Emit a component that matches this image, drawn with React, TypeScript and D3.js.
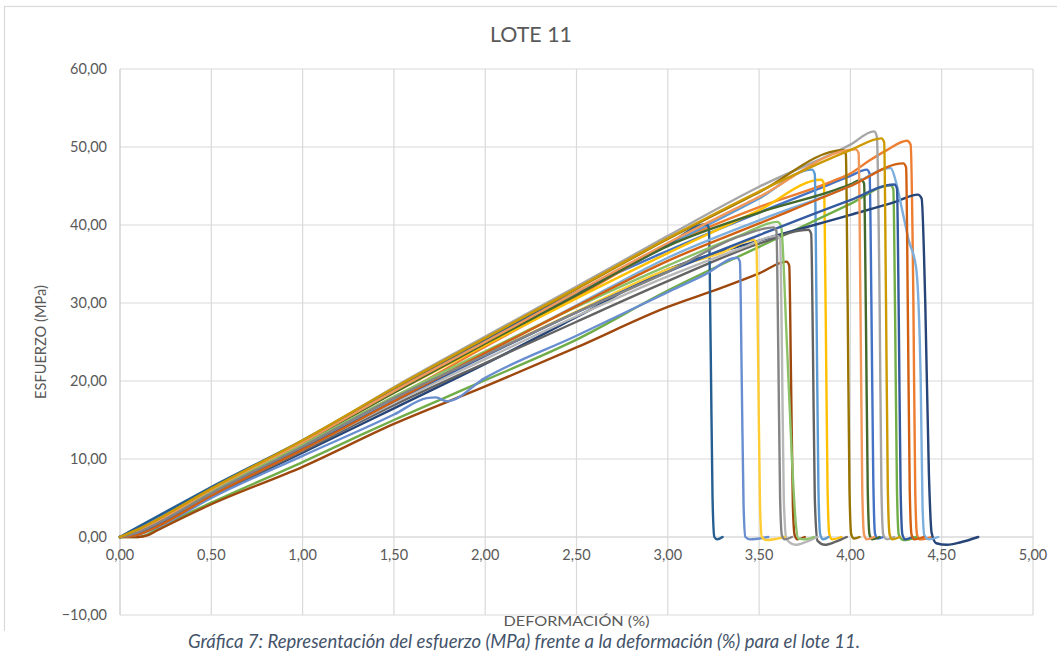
import React from "react";
import * as d3 from "d3";

// Stress (MPa) vs. strain (%) curves for the specimens of batch 11.
type Pt = [number, number];

const p01: Pt[] = [[0,0],[0.1,1.2],[0.2,2.5],[0.5,6.3],[1.0,12.3],[1.5,18.8],[2.0,25.2],[2.5,31.4],[3.0,36.7],[3.5,41.6],[3.8,44.4],[4.0,46.3],[4.09,47.1],[4.105,46.6],[4.115,30],[4.125,8],[4.135,0.4],[4.15,-0.2],[4.18,0]];
const p02: Pt[] = [[0,0],[0.1,0.5],[0.2,1.6],[0.5,5.6],[1.0,11.5],[1.5,17.8],[2.0,24.4],[2.5,30.8],[3.0,37.4],[3.5,42.3],[3.9,45.6],[4.0,46.6],[4.1,48.2],[4.2,49.6],[4.31,50.8],[4.33,50.3],[4.345,30],[4.355,6],[4.365,0.3],[4.38,-0.3],[4.45,0]];
const p03: Pt[] = [[0,0],[0.1,0.8],[0.2,2.0],[0.5,6.0],[1.0,12.2],[1.5,19.2],[2.0,25.7],[2.5,32.1],[3.0,38.6],[3.5,44.9],[4.0,50.3],[4.13,52.0],[4.145,51.3],[4.16,30],[4.17,6],[4.18,0.3],[4.2,-0.3],[4.24,0]];
const p04: Pt[] = [[0,0],[0.1,0.6],[0.2,1.8],[0.5,5.9],[1.0,12.0],[1.5,18.5],[2.0,24.6],[2.5,30.6],[3.0,36.4],[3.5,41.9],[3.84,45.8],[3.855,45.3],[3.865,28],[3.875,6],[3.885,0.3],[3.9,-0.3],[3.95,0]];
const p05: Pt[] = [[0,0],[0.1,0.7],[0.2,1.9],[0.5,5.9],[1.0,12.1],[1.5,18.7],[2.0,25.0],[2.5,31.2],[3.0,37.4],[3.5,43.4],[3.79,47.1],[3.805,46.5],[3.815,28],[3.825,6],[3.835,0.3],[3.85,-0.3],[3.88,0]];
const p06: Pt[] = [[0,0],[0.1,0.0],[0.15,0.3],[0.2,1.0],[0.5,4.4],[1.0,9.6],[1.32,13.1],[1.5,15.0],[2.0,20.1],[2.5,25.3],[3.0,31.6],[3.5,37.2],[4.0,42.7],[4.22,45.1],[4.235,44.6],[4.245,28],[4.255,6],[4.265,0.3],[4.29,-0.4],[4.36,0]];
const p07: Pt[] = [[0,0],[0.1,0.6],[0.2,1.7],[0.5,5.2],[1.0,10.8],[1.5,16.5],[2.0,22.2],[2.5,28.2],[3.0,34.3],[3.5,38.0],[4.0,41.3],[4.25,43.0],[4.37,43.9],[4.39,43.4],[4.41,30],[4.43,8],[4.445,0.5],[4.47,-0.8],[4.53,-1.0],[4.6,-0.7],[4.7,0]];
const p08: Pt[] = [[0,0],[0.1,0.0],[0.15,0.2],[0.2,0.8],[0.5,4.2],[1.0,9.0],[1.5,14.5],[2.0,19.3],[2.5,24.3],[3.0,29.5],[3.3,32.0],[3.5,33.8],[3.65,35.3],[3.665,34.8],[3.675,20],[3.685,4],[3.695,0.2],[3.71,-0.3],[3.75,0]];
const p09: Pt[] = [[0,0],[0.1,0.4],[0.2,1.4],[0.5,5.2],[1.0,11.0],[1.5,16.9],[2.0,22.3],[2.5,27.6],[3.0,32.8],[3.5,37.6],[3.77,39.4],[3.785,38.9],[3.795,24],[3.805,5],[3.82,-0.5],[3.86,-1.0],[3.92,-0.6],[3.98,0]];
const p10: Pt[] = [[0,0],[0.1,0.9],[0.2,2.1],[0.5,6.1],[1.0,12.3],[1.5,19.0],[2.0,25.4],[2.5,31.8],[3.0,38.2],[3.5,44.2],[3.96,49.6],[3.975,49.1],[3.985,30],[3.995,6],[4.005,0.3],[4.02,-0.2],[4.05,0]];
const p11: Pt[] = [[0,0],[0.1,1.3],[0.2,2.6],[0.5,6.4],[1.0,12.4],[1.5,19.0],[2.0,25.4],[2.5,31.3],[3.0,37.5],[3.21,40.1],[3.225,39.6],[3.235,24],[3.245,5],[3.255,0.0],[3.27,-0.3],[3.3,0]];
const p12: Pt[] = [[0,0],[0.1,0.8],[0.2,2.0],[0.5,5.9],[1.0,12.0],[1.5,18.5],[2.0,24.8],[2.5,31.0],[3.0,37.3],[3.5,41.6],[4.0,45.2],[4.06,45.8],[4.075,45.3],[4.085,28],[4.095,6],[4.105,0.3],[4.12,-0.3],[4.16,0]];
const p13: Pt[] = [[0,0],[0.1,0.3],[0.2,1.2],[0.5,5.0],[1.0,10.4],[1.5,15.7],[1.68,17.8],[1.73,17.9],[1.79,17.4],[2.0,20.4],[2.5,25.8],[3.0,31.4],[3.2,33.6],[3.38,35.8],[3.395,35.3],[3.405,20],[3.415,4],[3.425,0.0],[3.45,-0.3],[3.55,0]];
const p14: Pt[] = [[0,0],[0.1,0.7],[0.2,1.9],[0.5,6.0],[1.0,12.1],[1.5,18.7],[2.0,25.0],[2.5,31.4],[3.0,37.7],[3.5,43.6],[4.03,49.7],[4.045,49.2],[4.055,30],[4.065,6],[4.075,0.3],[4.09,-0.3],[4.13,0]];
const p15: Pt[] = [[0,0],[0.1,0.5],[0.2,1.5],[0.5,5.4],[1.0,11.2],[1.5,17.2],[2.0,22.8],[2.5,28.3],[3.0,33.4],[3.4,37.0],[3.6,38.6],[3.615,38.1],[3.625,24],[3.635,5],[3.65,-0.3],[3.7,-1.0],[3.76,-0.6],[3.82,0]];
const p16: Pt[] = [[0,0],[0.1,0.4],[0.2,1.4],[0.5,5.5],[1.0,11.5],[1.5,17.7],[2.0,23.4],[2.5,28.9],[3.0,34.3],[3.3,36.5],[3.47,38.1],[3.485,37.6],[3.495,22],[3.505,4],[3.515,0],[3.54,-0.4],[3.6,-0.2],[3.64,0]];
const p17: Pt[] = [[0,0],[0.1,0.5],[0.2,1.6],[0.5,5.6],[1.0,11.5],[1.5,17.6],[2.0,23.5],[2.5,29.7],[3.0,35.8],[3.5,40.6],[4.0,45.0],[4.22,47.3],[4.25,45.5],[4.28,42.3],[4.32,38.0],[4.36,34.5],[4.385,20],[4.395,4],[4.405,0.2],[4.43,-0.3],[4.48,0]];
const p18: Pt[] = [[0,0],[0.1,0.5],[0.2,1.6],[0.5,5.7],[1.0,11.8],[1.5,18.0],[2.0,23.8],[2.5,29.5],[3.0,34.8],[3.4,38.7],[3.6,40.4],[3.62,39.9],[3.65,26],[3.68,10],[3.70,2],[3.715,-0.2],[3.75,-0.3],[3.8,0]];
const p19: Pt[] = [[0,0],[0.1,0.4],[0.2,1.4],[0.5,5.4],[1.0,11.3],[1.5,17.4],[2.0,23.2],[2.5,28.8],[3.0,34.0],[3.5,38.7],[4.0,43.2],[4.24,45.2],[4.255,44.7],[4.265,28],[4.275,6],[4.285,0.3],[4.3,-0.3],[4.34,0]];
const p20: Pt[] = [[0,0],[0.1,0.3],[0.2,1.3],[0.5,5.3],[1.0,11.2],[1.5,17.4],[2.0,23.6],[2.5,29.6],[3.0,35.4],[3.5,40.2],[4.0,45.0],[4.29,47.9],[4.305,47.4],[4.315,28],[4.325,6],[4.335,0.3],[4.35,-0.3],[4.4,0]];
const p21: Pt[] = [[0,0],[0.1,0.6],[0.2,1.7],[0.5,5.6],[1.0,11.6],[1.5,17.8],[2.0,23.3],[2.5,28.8],[3.0,34.0],[3.4,38.6],[3.58,39.7],[3.595,39.2],[3.605,24],[3.615,5],[3.625,0.2],[3.64,-0.3],[3.68,0]];
const p22: Pt[] = [[0,0],[0.1,1.0],[0.2,2.2],[0.5,6.2],[1.0,12.4],[1.5,19.1],[2.0,25.5],[2.5,31.9],[3.0,38.3],[3.5,44.3],[4.0,49.6],[4.17,51.1],[4.185,50.6],[4.195,30],[4.205,6],[4.215,0.3],[4.23,-0.3],[4.27,0]];

const specimens: Pt[][] = [p01,p02,p03,p04,p05,p06,p07,p08,p09,p10,p11,p12,p13,p14,p15,p16,p17,p18,p19,p20,p21,p22];

const palette = [
  "#4472C4","#ED7D31","#A5A5A5","#FFC000","#5B9BD5","#70AD47",
  "#264478","#9E480E","#636363","#997300","#255E91","#43682B",
  "#698ED0","#F1975A","#B7B7B7","#FFCD33","#7CAFDD","#8CC168",
  "#335AA1","#D26012","#848484","#CC9A00",
];

const xTicks = [0, 0.5, 1, 1.5, 2, 2.5, 3, 3.5, 4, 4.5, 5];
const yTicks = [-10, 0, 10, 20, 30, 40, 50, 60];

const chartTitle = "LOTE 11";
const xTitle = "DEFORMACIÓN (%)";
const yTitle = "ESFUERZO (MPa)";
const caption = "Gráfica 7: Representación del esfuerzo (MPa) frente a la deformación (%) para el lote 11.";

const W = 1057;
const H = 653;
const FONT = "Lato, 'Open Sans', sans-serif";

const locale = d3.formatLocale({ decimal: ",", thousands: ".", grouping: [3], currency: ["", "€"] });
const fmt = locale.format(".2f");

export default function App() {
  const x = d3.scaleLinear().domain([0, 5]).range([120, 1033]);
  const y = d3.scaleLinear().domain([-10, 60]).range([615, 69]);
  const line = d3
    .line<Pt>()
    .x((d) => x(d[0]))
    .y((d) => y(d[1]))
    .curve(d3.curveMonotoneX);

  const [x0, x1] = x.range();
  const [yb, yt] = y.range();

  return (
    <svg
      width={W}
      height={H}
      style={{ position: "absolute", left: 0, top: 0, background: "#fff" }}
    >
      <rect x={0} y={0} width={W} height={H} fill="#fff" />
      {/* chart frame */}
      <rect x={4.5} y={6.5} width={W + 10} height={H} fill="none" stroke="#d9d9d9" strokeWidth={1.2} />

      <text x={531} y={42} textAnchor="middle" fontFamily={FONT} fontSize={21} fill="#595959" textLength={82} lengthAdjust="spacingAndGlyphs">
        {chartTitle}
      </text>

      {/* gridlines */}
      {yTicks.map((t) => (
        <line key={"gy" + t} x1={x0} x2={x1} y1={y(t)} y2={y(t)} stroke={t === 0 ? "#c8c8c8" : "#d9d9d9"} strokeWidth={1.2} />
      ))}
      {xTicks.map((t) => (
        <line key={"gx" + t} x1={x(t)} x2={x(t)} y1={yb} y2={yt} stroke={t === 0 ? "#c8c8c8" : "#d9d9d9"} strokeWidth={1.2} />
      ))}

      {/* y tick labels */}
      {yTicks.map((t) => (
        <text key={"ly" + t} x={107} y={y(t) + 5} textAnchor="end" fontFamily={FONT} fontSize={14.5} fill="#595959">
          {fmt(t)}
        </text>
      ))}
      {/* x tick labels, placed along the zero line */}
      {xTicks.map((t) => (
        <text key={"lx" + t} x={x(t)} y={y(0) + 23} textAnchor="middle" fontFamily={FONT} fontSize={14.5} fill="#595959">
          {fmt(t)}
        </text>
      ))}

      {/* specimen curves */}
      <g fill="none" strokeWidth={2.4} strokeLinejoin="round" strokeLinecap="round">
        {specimens.map((s, i) => (
          <path key={i} d={line(s) || ""} stroke={palette[i % palette.length]} />
        ))}
      </g>

      {/* axis titles */}
      <text
        transform={`translate(46, ${(yb + yt) / 2}) rotate(-90)`}
        textAnchor="middle"
        fontFamily={FONT}
        fontSize={16}
        fill="#595959"
        textLength={114}
        lengthAdjust="spacingAndGlyphs"
      >
        {yTitle}
      </text>
      <text x={(x0 + x1) / 2} y={626} textAnchor="middle" fontFamily={FONT} fontSize={13} fill="#595959" textLength={146} lengthAdjust="spacingAndGlyphs">
        {xTitle}
      </text>

      {/* caption band */}
      <rect x={0} y={631} width={W} height={H - 631} fill="#fff" />
      <text x={524} y={648} textAnchor="middle" fontFamily={FONT} fontStyle="italic" fontSize={18.5} fill="#44546A" textLength={672} lengthAdjust="spacingAndGlyphs">
        {caption}
      </text>
    </svg>
  );
}
